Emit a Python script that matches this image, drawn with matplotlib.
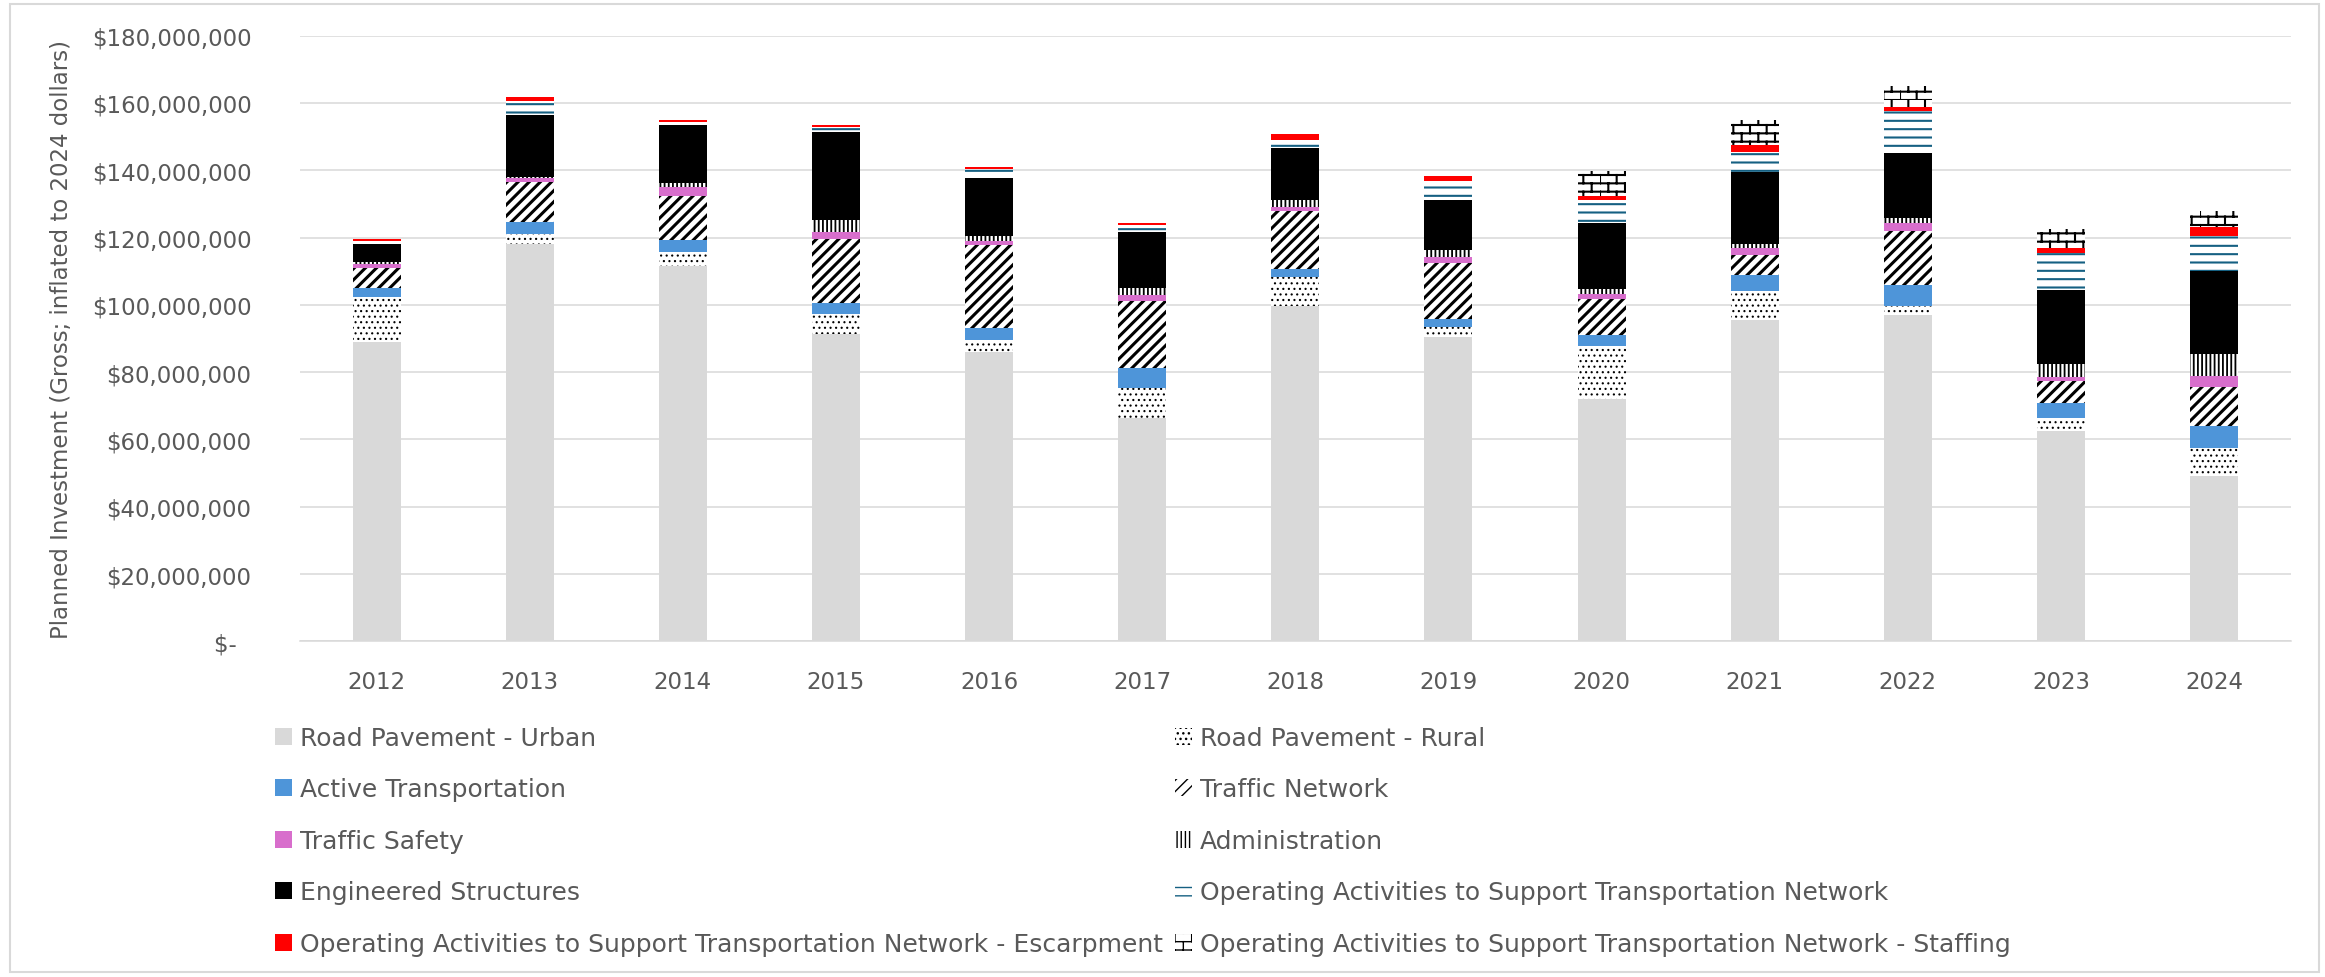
import warnings
import numpy as np
import matplotlib
matplotlib.use('Agg')
import matplotlib.pyplot as plt
import matplotlib.hatch as mhatch
from matplotlib.path import Path
from matplotlib.patches import Rectangle

warnings.filterwarnings('ignore')

# --- data (millions of dollars) ---
years = ['2012', '2013', '2014', '2015', '2016', '2017', '2018',
         '2019', '2020', '2021', '2022', '2023', '2024']

urban = [89.1, 118.0, 111.6, 91.2, 85.9, 66.5, 99.7, 90.4, 72.1, 95.4, 97.0, 62.6, 49.2]
rural = [13.2, 3.0, 4.2, 6.2, 3.8, 8.7, 8.5, 3.0, 15.6, 8.6, 2.7, 3.9, 8.4]
active = [2.8, 3.6, 3.5, 3.3, 3.5, 5.9, 2.5, 2.4, 3.2, 4.9, 6.3, 4.3, 6.5]
traffic_network = [6.0, 11.9, 13.1, 18.8, 24.5, 19.9, 17.1, 16.5, 10.9, 6.0, 15.9, 6.7, 11.5]
traffic_safety = [1.0, 1.2, 2.5, 2.3, 1.2, 1.9, 1.4, 2.0, 1.3, 2.1, 2.4, 1.1, 3.3]
administration = [0.5, 0.3, 1.4, 3.4, 1.7, 2.2, 1.9, 2.1, 1.6, 1.2, 1.6, 3.8, 6.5]
engineered = [5.5, 18.4, 17.1, 26.2, 17.0, 16.7, 15.5, 14.8, 19.6, 21.2, 19.2, 22.0, 24.8]
operating = [1.0, 4.2, 0.9, 1.5, 2.8, 2.0, 2.5, 5.7, 6.9, 6.0, 12.5, 11.1, 10.3]
escarpment = [0.5, 1.1, 0.7, 0.7, 0.6, 0.5, 1.6, 1.3, 1.3, 2.1, 1.3, 1.3, 2.7]
staffing = [0, 0, 0, 0, 0, 0, 0, 0, 7.4, 7.4, 6.1, 5.8, 4.8]

labels = ['Road Pavement - Urban', 'Road Pavement - Rural',
          'Active Transportation', 'Traffic Network',
          'Traffic Safety', 'Administration',
          'Engineered Structures',
          'Operating Activities to Support Transportation Network',
          'Operating Activities to Support Transportation Network - Escarpment',
          'Operating Activities to Support Transportation Network - Staffing']

series = [urban, rural, active, traffic_network, traffic_safety,
          administration, engineered, operating, escarpment, staffing]

# (facecolor, hatch, hatch colour, hatch linewidth)
styles = [('#D9D9D9', None, '#D9D9D9', 1.0),
          ('white', '...', 'black', 0.8),
          ('#4E95D9', None, '#4E95D9', 1.0),
          ('white', '///', 'black', 2.2),
          ('#D86ECC', None, '#D86ECC', 1.0),
          ('white', '||||', 'black', 1.3),
          ('black', None, 'black', 1.0),
          ('white', '--', '#156082', 1.5),
          ('#FF0000', None, '#FF0000', 1.0),
          ('white', 'b', 'black', 1.5)]


# brick pattern, like Excel's "brick" fill
class BrickHatch(mhatch.HatchPatternBase):
    def __init__(self, hatch, density):
        self.n = int(hatch.count('b') * density)
        self.num_vertices = (2 * self.n + 2 * self.n * self.n) * 2

    def set_vertices_and_codes(self, vertices, codes):
        n = self.n
        segs = []
        for i in range(n):
            y0, y1, y2 = i / n, (i + 0.5) / n, (i + 1) / n
            segs.append(((0, y0), (1, y0)))
            segs.append(((0, y1), (1, y1)))
            for j in range(n):
                segs.append(((j / n, y0), (j / n, y1)))
                segs.append((((j + 0.5) / n, y1), ((j + 0.5) / n, y2)))
        vertices[:] = np.array(segs, dtype=float).reshape(-1, 2)
        codes[0::2] = Path.MOVETO
        codes[1::2] = Path.LINETO


mhatch._hatch_types.append(BrickHatch)

grey = '#595959'
grid_c = '#D9D9D9'
fs = 16.5
leg_fs = 18

fig = plt.figure(figsize=(23.25, 9.78), dpi=100)
ax = fig.add_axes([300 / 2325, 1 - 642.3 / 978, 1990.6 / 2325, 605.6 / 978])

x = np.arange(len(years))
bottom = np.zeros(len(years))
handles = []
for vals, lab, (fc, h, hc, hlw) in zip(series, labels, styles):
    v = np.array(vals) * 1e6
    with plt.rc_context({'hatch.linewidth': hlw}):
        b = ax.bar(x, v, 0.314, bottom=bottom, color=fc, edgecolor=hc,
                   hatch=h, linewidth=0, label=lab, zorder=3)
    handles.append(b)
    bottom += v

ax.set_xlim(-0.5, len(years) - 0.5)
ax.set_ylim(0, 180e6)
ax.set_yticks(np.arange(0, 180e6 + 1, 20e6))
ax.yaxis.set_major_formatter(
    matplotlib.ticker.FuncFormatter(lambda v, p: '$-  ' if v == 0 else f'${v:,.0f}'))
ax.set_xticks(x)
ax.set_xticklabels(years)
ax.tick_params(axis='both', length=0, labelsize=fs, labelcolor=grey)
ax.tick_params(axis='x', pad=21)
ax.tick_params(axis='y', pad=35)
for lbl in ax.get_yticklabels():
    lbl.set_horizontalalignment('right')

ax.grid(axis='y', color=grid_c, linewidth=1.1, zorder=0)
ax.set_axisbelow(True)
for s in ['top', 'right', 'left']:
    ax.spines[s].set_visible(False)
ax.spines['bottom'].set_color(grid_c)
ax.spines['bottom'].set_linewidth(1.1)

ax.set_ylabel('Planned Investment (Gross; inflated to 2024 dollars)',
              fontsize=fs, color=grey)
ax.yaxis.set_label_coords(-0.114, 0.5)

# legend in two columns, row-major order like Excel
leg_kw = dict(loc='upper left', frameon=False, borderpad=0, borderaxespad=0,
              handlelength=0.68, handleheight=0.68, handletextpad=0.3,
              labelspacing=1.10, fontsize=leg_fs, labelcolor=grey,
              bbox_transform=fig.transFigure)
fig.legend(handles[0::2], labels[0::2], bbox_to_anchor=(275 / 2325, 1 - 727 / 978), **leg_kw)
fig.legend(handles[1::2], labels[1::2], bbox_to_anchor=(1175 / 2325, 1 - 727 / 978), **leg_kw)

# light chart-area border
fig.patches.append(Rectangle((10 / 2325, 5 / 978), 2309 / 2325, 968 / 978,
                             transform=fig.transFigure, fill=False,
                             edgecolor=grid_c, linewidth=1.5))

fig.savefig('out.png', dpi=100)
